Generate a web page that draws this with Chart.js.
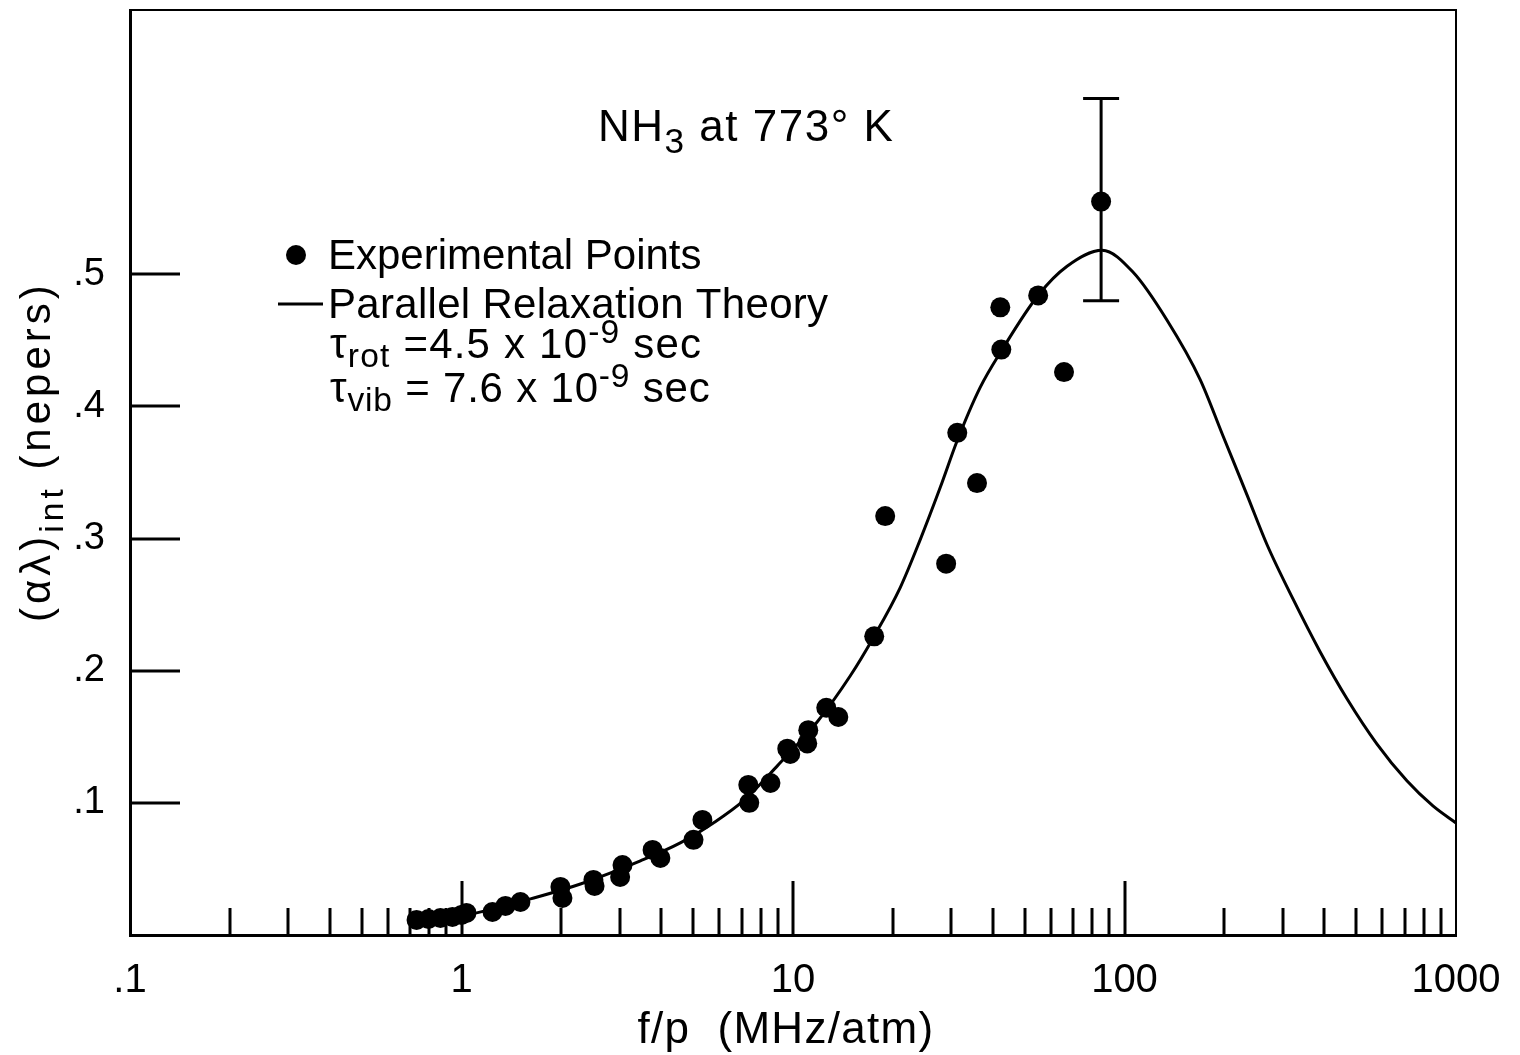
<!DOCTYPE html>
<html>
<head>
<meta charset="utf-8">
<title>NH3 at 773 K</title>
<script src="https://cdn.jsdelivr.net/npm/chart.js@4.4.0/dist/chart.umd.min.js"></script>
<style>
  html, body { margin: 0; padding: 0; background: #fff; }
  #wrap { width: 1520px; height: 1055px; }
</style>
</head>
<body>
<div id="wrap"><canvas id="chart" width="1520" height="1055"></canvas></div>
<script>
// measured absorption, f/p in MHz/atm
const expFreq = [0.732, 0.795, 0.864, 0.939, 1.0, 1.035, 1.24, 1.357, 1.506, 1.988,
  2.016, 2.50, 2.52, 3.06, 3.01, 3.77, 3.98, 5.01, 5.33, 7.33,
  7.38, 8.55, 9.61, 9.81, 11.04, 11.12, 12.6, 13.7, 17.58, 18.97,
  28.97, 31.3, 35.9, 42.2, 42.5, 54.9, 65.7, 85.0];
const expAlpha = [0.0114, 0.0121, 0.0129, 0.0136, 0.0152, 0.0167, 0.0174, 0.022, 0.025, 0.0364,
  0.028, 0.0417, 0.0371, 0.053, 0.0439, 0.0644, 0.0583, 0.072, 0.0871, 0.1136,
  0.100, 0.115, 0.141, 0.137, 0.145, 0.155, 0.172, 0.165, 0.226, 0.317,
  0.281, 0.380, 0.342, 0.475, 0.443, 0.484, 0.426, 0.555];

// parallel relaxation theory curve
const theoryFreq = [0.712, 1.0, 1.311, 1.615, 2.285, 3.465, 4.57, 5.75, 7.08, 8.97,
  11.84, 14.89, 17.47, 21.06, 24.2, 27.8, 31.3, 36.7, 42.8, 54.9,
  67.1, 85.6, 106.2, 134.4, 169, 198, 234, 269, 322, 389,
  469, 577, 711, 852, 1000];
const theoryAlpha = [0.0106, 0.0144, 0.0212, 0.0273, 0.0386, 0.0561, 0.0697, 0.0848, 0.1015, 0.128,
  0.1614, 0.1962, 0.225, 0.2629, 0.2992, 0.3386, 0.3742, 0.4144, 0.4432, 0.4841,
  0.5061, 0.5182, 0.5015, 0.4652, 0.4205, 0.378, 0.3333, 0.2955, 0.2545, 0.2144,
  0.1788, 0.1447, 0.1167, 0.0977, 0.0848];

// error bar on the top point
const errFreq = [85.0];
const errLow = [0.480];
const errHigh = [0.633];

// axis ticks
const xLabelValues = [0.1, 1, 10, 100, 1000];
const xTickLabels = ['.1', '1', '10', '100', '1000'];
const xDecades = [0.1, 1, 10, 100];
const xMultipliers = [1, 2, 3, 4, 5, 6, 7, 8, 9];
const yTickValues = [0.1, 0.2, 0.3, 0.4, 0.5];
const yTickLabels = ['.1', '.2', '.3', '.4', '.5'];

const FONT = '"Liberation Sans", Arial, sans-serif';

// draw a run of text pieces with sub/superscripts, returns end x
function drawRich(ctx, parts, x, y, size, spacing) {
    let cx = x;
    ctx.letterSpacing = (spacing || 0) + 'px';
    parts.forEach(p => {
        const s = size * (p.scale || 1);
        ctx.font = s + 'px ' + FONT;
        ctx.fillText(p.t, cx, y + (p.dy || 0) * size);
        cx += ctx.measureText(p.t).width;
    });
    ctx.letterSpacing = '0px';
    return cx;
}

const inwardTicks = {
    id: 'inwardTicks',
    afterDraw(chart) {
        const ctx = chart.ctx;
        const xs = chart.scales.x, ys = chart.scales.y;
        const area = chart.chartArea;
        ctx.save();
        ctx.strokeStyle = '#000';
        ctx.lineWidth = 3;
        ctx.lineCap = 'butt';

        // log ticks along the bottom, pointing up
        xDecades.forEach(d => {
            xMultipliers.forEach(m => {
                const v = d * m;
                if (v <= xs.min || v >= xs.max) return;
                const px = Math.round(xs.getPixelForValue(v));
                const len = m === 1 ? 54 : 27;
                ctx.beginPath();
                ctx.moveTo(px, area.bottom);
                ctx.lineTo(px, area.bottom - len);
                ctx.stroke();
            });
        });

        // value ticks along the left, pointing right
        yTickValues.forEach(v => {
            const py = Math.round(ys.getPixelForValue(v));
            ctx.beginPath();
            ctx.moveTo(area.left, py);
            ctx.lineTo(area.left + 50, py);
            ctx.stroke();
        });

        // top and right frame
        ctx.lineWidth = 2;
        ctx.beginPath();
        ctx.moveTo(area.left, area.top);
        ctx.lineTo(area.right, area.top);
        ctx.lineTo(area.right, area.bottom);
        ctx.stroke();

        // error bar
        ctx.lineWidth = 3;
        errFreq.forEach((f, i) => {
            const px = xs.getPixelForValue(f);
            const lo = ys.getPixelForValue(errLow[i]);
            const hi = ys.getPixelForValue(errHigh[i]);
            ctx.beginPath();
            ctx.moveTo(px, lo);
            ctx.lineTo(px, hi);
            ctx.moveTo(px - 18, lo);
            ctx.lineTo(px + 18, lo);
            ctx.moveTo(px - 18, hi);
            ctx.lineTo(px + 18, hi);
            ctx.stroke();
        });

        // texts
        ctx.fillStyle = '#000';
        ctx.textAlign = 'left';
        ctx.textBaseline = 'alphabetic';

        drawRich(ctx, [
            { t: 'NH' },
            { t: '3', scale: 0.8, dy: 0.28 },
            { t: ' at 773° K' }
        ], 598, 141, 44, 1.5);

        // legend
        ctx.beginPath();
        ctx.arc(296, 255, 10, 0, Math.PI * 2);
        ctx.fill();
        drawRich(ctx, [{ t: 'Experimental Points' }], 328, 269, 42);

        ctx.beginPath();
        ctx.moveTo(278, 304);
        ctx.lineTo(323, 304);
        ctx.stroke();
        drawRich(ctx, [{ t: 'Parallel Relaxation Theory' }], 328, 318, 42, 0.3);

        drawRich(ctx, [
            { t: 'τ' },
            { t: 'rot', scale: 0.8, dy: 0.22 },
            { t: ' =4.5 x 10' },
            { t: '-9', scale: 0.8, dy: -0.35 },
            { t: ' sec' }
        ], 330, 358, 42, 1.2);

        drawRich(ctx, [
            { t: 'τ' },
            { t: 'vib', scale: 0.8, dy: 0.22 },
            { t: ' = 7.6 x 10' },
            { t: '-9', scale: 0.8, dy: -0.35 },
            { t: ' sec' }
        ], 330, 402, 42, 0.8);

        // axis titles
        ctx.textAlign = 'center';
        ctx.font = '44px ' + FONT;
        ctx.letterSpacing = '1.3px';
        ctx.fillText('f/p  (MHz/atm)', 786, 1043);
        ctx.letterSpacing = '0px';

        ctx.textAlign = 'left';
        ctx.save();
        ctx.translate(50, 622);
        ctx.rotate(-Math.PI / 2);
        drawRich(ctx, [
            { t: '(αλ)' },
            { t: 'int', scale: 0.8, dy: 0.3 },
            { t: ' (nepers)' }
        ], 0, 0, 42, 4);
        ctx.restore();

        ctx.restore();
    }
};

const ctx = document.getElementById('chart').getContext('2d');
new Chart(ctx, {
    type: 'scatter',
    data: {
        datasets: [{
            label: 'Experimental Points',
            data: expFreq.map((f, i) => ({ x: f, y: expAlpha[i] })),
            pointRadius: 10,
            pointBackgroundColor: '#000',
            pointBorderWidth: 0,
            showLine: false
        }, {
            label: 'Parallel Relaxation Theory',
            data: theoryFreq.map((f, i) => ({ x: f, y: theoryAlpha[i] })),
            showLine: true,
            pointRadius: 0,
            borderColor: '#000',
            borderWidth: 3,
            cubicInterpolationMode: 'monotone'
        }]
    },
    options: {
        responsive: false,
        animation: false,
        devicePixelRatio: 1,
        layout: { padding: { top: 10, right: 64, left: 0, bottom: 0 } },
        plugins: { legend: { display: false }, tooltip: { enabled: false } },
        scales: {
            x: {
                type: 'logarithmic',
                min: 0.1,
                max: 1000,
                afterFit: s => {
                    s.height = 120;
                    s.paddingLeft = 0;
                    s.paddingRight = 0;
                },
                afterBuildTicks: s => { s.ticks = xLabelValues.map(v => ({ value: v })); },
                ticks: {
                    autoSkip: false,
                    maxRotation: 0,
                    padding: 14,
                    color: '#000',
                    font: { family: FONT, size: 40 },
                    callback: (v, i) => xTickLabels[i]
                },
                grid: { display: false },
                border: { display: true, color: '#000', width: 3 }
            },
            y: {
                type: 'linear',
                min: 0,
                max: 0.7,
                afterFit: s => {
                    s.width = 130;
                    s.paddingTop = 0;
                    s.paddingBottom = 0;
                },
                afterBuildTicks: s => { s.ticks = yTickValues.map(v => ({ value: v })); },
                ticks: {
                    autoSkip: false,
                    padding: 17,
                    color: '#000',
                    font: { family: FONT, size: 38 },
                    callback: (v, i) => yTickLabels[i]
                },
                grid: { display: false },
                border: { display: true, color: '#000', width: 3 }
            }
        }
    },
    plugins: [inwardTicks]
});
</script>
</body>
</html>
